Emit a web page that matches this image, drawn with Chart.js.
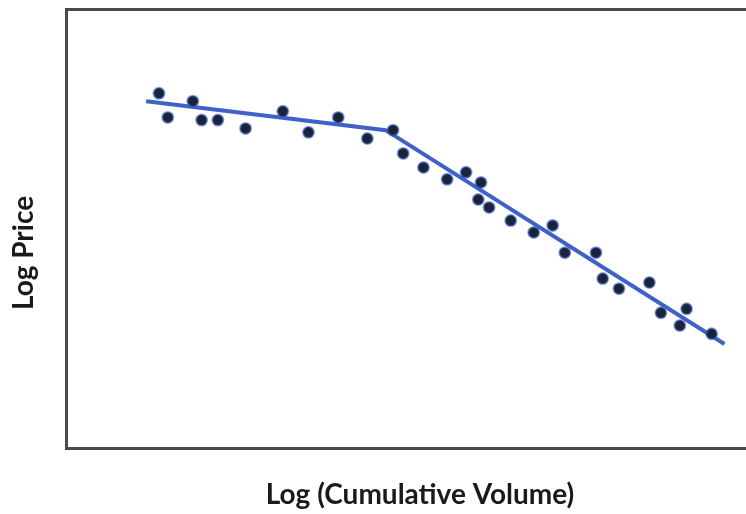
<!DOCTYPE html>
<html>
<head>
<meta charset="utf-8">
<script src="https://cdn.jsdelivr.net/npm/chart.js@4.4.0/dist/chart.umd.min.js"></script>
<style>
  html, body { margin: 0; padding: 0; background: #fff; overflow: hidden; }
  #wrap { width: 746px; height: 514px; overflow: hidden; }
  #wrap canvas { display: block; }
</style>
</head>
<body>
<div id="wrap"><canvas id="chart" width="780" height="514"></canvas></div>
<script>
// observed points (log volume, log price) in arbitrary units
const volumeObs = [13.3, 14.6, 18.3, 19.6, 22.0, 26.1, 31.6, 35.4, 39.8, 44.1,
                   47.9, 49.4, 52.4, 55.9, 58.7, 60.9, 60.5, 62.1, 65.3, 68.7,
                   71.5, 73.3, 77.9, 78.9, 81.3, 85.8, 87.5, 91.3, 90.3, 95.0];
const priceObs  = [80.8, 75.3, 79.0, 74.7, 74.7, 72.8, 76.7, 71.9, 75.3, 70.5,
                   72.4, 67.1, 63.9, 61.2, 62.8, 60.5, 56.6, 54.8, 51.8, 49.1,
                   50.7, 44.5, 44.5, 38.6, 36.3, 37.7, 30.8, 31.7, 27.9, 26.0];

// fitted piecewise trend line
const trendVolume = [11.4, 46.8, 96.9];
const trendPrice  = [79.0, 72.4, 23.7];

const axisTitles = { x: 'Log (Cumulative Volume)', y: 'Log Price' };

const toPoints = (xs, ys) => xs.map((x, i) => ({ x: x, y: ys[i] }));

// draws the two axis titles where the original has them
const titlePlugin = {
  id: 'titles',
  afterDraw(chart) {
    const ctx = chart.ctx;
    ctx.save();
    ctx.fillStyle = '#1a1a1a';
    ctx.font = 'bold 28px Lato';
    ctx.textAlign = 'center';
    ctx.textBaseline = 'middle';
    ctx.fillText(axisTitles.x, 420, 495);
    ctx.translate(24, 253);
    ctx.rotate(-Math.PI / 2);
    ctx.fillText(axisTitles.y, 0, 0);
    ctx.restore();
  }
};

const frame = { display: true, color: '#4a4a4a', width: 3 };

new Chart(document.getElementById('chart'), {
  data: {
    datasets: [
      {
        type: 'scatter',
        data: toPoints(volumeObs, priceObs),
        order: 0,
        pointRadius: 5.5,
        pointHoverRadius: 5.5,
        backgroundColor: '#1b2335',
        borderColor: 'rgba(55, 95, 205, 0.55)',
        borderWidth: 2
      },
      {
        type: 'line',
        data: toPoints(trendVolume, trendPrice),
        order: 1,
        borderColor: '#3f62c9',
        borderWidth: 4,
        pointRadius: 0,
        tension: 0,
        fill: false
      }
    ]
  },
  options: {
    responsive: false,
    animation: false,
    layout: { padding: { left: 66, top: 9, right: 5, bottom: 66 } },
    plugins: { legend: { display: false }, tooltip: { enabled: false } },
    scales: {
      x: {
        type: 'linear', min: -0.45, max: 104.0,
        ticks: { display: false },
        grid: { display: false, drawTicks: false },
        border: frame
      },
      xTop: {
        type: 'linear', position: 'top', min: -0.45, max: 104.0,
        ticks: { display: false },
        grid: { display: false, drawTicks: false },
        border: frame
      },
      y: {
        type: 'linear', min: 0, max: 100,
        ticks: { display: false },
        grid: { display: false, drawTicks: false },
        border: frame
      }
    }
  },
  plugins: [titlePlugin]
});
</script>
</body>
</html>
